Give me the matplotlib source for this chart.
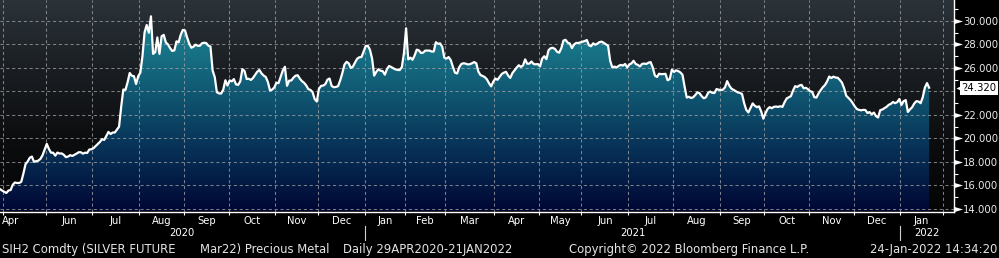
import numpy as np
import pandas as pd
import matplotlib
matplotlib.use("Agg")
import matplotlib.pyplot as plt
import matplotlib.transforms as mtransforms
from matplotlib.colors import LinearSegmentedColormap
from matplotlib.patches import Polygon

# ---------------- data (daily settlement, SIH2 Comdty) ----------------
price_2020 = [
    15.68, 15.55, 15.45, 15.35, 15.56, 15.60, 16.05, 16.24, 16.20, 16.20,
    16.30, 17.00, 17.80, 18.03, 18.35, 18.45, 18.00, 18.06, 18.10, 18.25,
    18.56, 19.05, 19.53, 19.10, 18.78, 18.78, 18.53, 18.79, 18.71, 18.72,
    18.60, 18.40, 18.45, 18.57, 18.50, 18.60, 18.70, 18.82, 18.82, 18.70,
    18.78, 18.76, 19.05, 19.07, 19.17, 19.35, 19.52, 19.70, 19.93, 19.87,
    20.20, 20.55, 20.37, 20.50, 20.50, 20.75,
    21.00, 22.70, 24.16, 24.13, 24.77, 25.57, 25.33, 25.30, 24.63, 25.30,
    25.60, 27.00, 29.04, 29.66, 29.00, 30.40, 27.20, 27.35, 28.60, 27.20,
    28.70, 28.82, 28.18, 28.00, 27.69, 27.45, 27.50, 28.27, 28.18, 28.83,
    29.24, 29.20, 28.60, 28.07, 27.72, 27.81, 27.99, 27.89, 27.89, 28.10,
    28.15, 28.12, 27.90, 27.82, 25.78, 25.23, 23.93, 23.83, 23.82, 24.15,
    24.95, 24.50, 24.94, 24.86, 25.05, 24.60,
    24.56, 24.85, 25.90, 25.75, 25.06, 25.08, 24.98, 25.15, 25.42, 25.68,
    25.83, 25.54, 25.35, 25.23, 24.80, 24.08, 24.16, 24.33, 24.74, 24.71,
    25.25, 25.78, 26.10, 24.48, 24.92, 24.93, 25.17, 25.34, 25.38, 25.10,
    24.88, 24.74, 24.52, 24.20, 24.13, 23.95, 23.35, 23.14, 24.22, 24.47,
    24.50, 24.62, 25.00, 25.10, 24.46, 24.36, 24.38, 24.45, 24.94, 25.55,
    26.28, 26.52, 26.40, 26.00, 26.12, 26.47,
    26.79, 26.91, 26.93, 27.38,
]
price_2021 = [
    27.87, 27.89, 27.55, 26.80, 25.35, 25.67,
    25.89, 25.76, 25.73, 25.43, 25.90, 26.17, 26.08, 25.97, 25.88, 25.83,
    25.82, 26.07, 27.27, 29.38, 26.73, 26.88, 26.70, 27.06, 27.56, 27.50,
    27.28, 27.30, 27.48, 27.48, 27.48, 27.40, 27.40, 28.19, 28.06, 28.09,
    27.80, 26.87, 26.80, 26.93, 26.67, 26.10, 25.60, 25.53, 26.07, 26.34,
    26.40, 26.37, 26.30, 26.32, 26.40,
    26.50, 26.40, 25.69, 25.39, 25.32, 25.22, 25.03, 24.70, 24.43, 24.83,
    25.10, 24.99, 25.24, 25.49, 25.60, 25.67, 25.35, 25.15, 25.56, 25.80,
    26.03, 26.23, 26.09, 26.22, 26.73, 26.36, 26.37, 26.55, 26.33, 26.31,
    26.33, 26.13, 26.80, 27.00, 26.75, 27.52, 27.68, 27.72, 27.62, 27.38,
    27.30, 27.68, 28.33, 28.40, 28.16, 28.08, 27.69, 28.00, 28.13, 28.13,
    28.18, 28.24, 28.29, 28.38, 27.93, 27.85,
    28.10, 27.98, 28.08, 28.21, 28.24, 28.14, 28.01, 27.89, 26.60, 26.04,
    26.12, 26.04, 26.18, 26.26, 26.20, 26.34, 26.04, 26.30, 26.39, 26.61,
    26.34, 26.26, 26.13, 26.35, 26.37, 26.34, 26.45, 26.50, 26.05, 25.36,
    25.23, 25.51, 25.47, 25.48, 25.50, 24.95, 25.05, 25.85, 25.66, 25.80,
    25.73, 25.62, 25.42, 24.40, 23.48, 23.55, 23.44, 23.50, 23.69, 23.92,
    23.85, 23.60, 23.42, 23.50, 23.86,
    23.99, 23.88, 23.86, 24.20, 24.15, 24.12, 24.15, 24.35, 24.88, 24.50,
    24.24, 24.13, 24.01, 23.92, 23.88, 23.78, 23.00, 22.43, 22.21, 22.60,
    22.98, 22.78, 22.66, 22.73, 22.30, 21.68, 22.12, 22.50, 22.66, 22.57,
    22.69, 22.71, 22.68, 22.74, 22.68, 23.08, 23.40, 23.50, 23.60, 24.08,
    24.45, 24.38, 24.51, 24.56, 24.27, 24.31, 24.19, 24.02, 23.96, 23.51,
    23.48, 23.83, 24.11, 24.36, 24.54, 24.85,
    25.27, 25.14, 25.26, 25.18, 25.17, 24.98, 24.75, 24.28, 23.64, 23.46,
    23.27, 23.02, 22.73, 22.50, 22.43, 22.39, 22.43, 22.42, 22.16, 22.24,
    22.05, 22.20, 21.90, 21.78, 22.40, 22.46, 22.57, 22.69, 22.86, 22.94,
    23.10, 23.00, 23.09, 23.35,
]
price_2022 = [22.85, 23.17, 23.26, 22.25, 22.47, 22.65, 22.97, 23.17, 23.14,
              23.00, 23.50, 24.32, 24.71, 24.32]

holidays = ['2020-05-25', '2020-07-03', '2020-09-07', '2020-11-26', '2020-12-25',
            '2021-01-01', '2021-01-18', '2021-02-15', '2021-04-02', '2021-05-31',
            '2021-07-05', '2021-09-06', '2021-11-25', '2021-12-24', '2022-01-17',
            '2022-02-21']
first_day = '2020-04-29'
calendar_end = '2022-02-28'

y_ticks = [14, 16, 18, 20, 22, 24, 26, 28, 30]
y_minor = [15, 17, 19, 21, 23, 25, 27, 29, 31]
month_names = ['Jan', 'Feb', 'Mar', 'Apr', 'May', 'Jun', 'Jul', 'Aug', 'Sep',
               'Oct', 'Nov', 'Dec']

footer_left = "SIH2 Comdty (SILVER FUTURE"
footer_mid = "Mar22) Precious Metal"
footer_range = "Daily 29APR2020-21JAN2022"
footer_copy = "Copyright\u00a9 2022 Bloomberg Finance L.P."
footer_time = "24-Jan-2022 14:34:20"

# ---------------- prep ----------------
price = np.array(price_2020 + price_2021 + price_2022)
sessions = pd.bdate_range(first_day, calendar_end, freq='C', holidays=holidays)
n = len(price)
x = np.arange(n)

XMAX = 448.7
YMIN, YMAX = 13.77, 31.79

W, H = 999, 258
fig = plt.figure(figsize=(W / 100, H / 100), dpi=100, facecolor='black')
ax_r, ax_b = 954, 211.5
ax = fig.add_axes([0, (H - ax_b) / H, ax_r / W, ax_b / H])
ax.set_facecolor('black')
ax.set_xlim(0, XMAX)
ax.set_ylim(YMIN, YMAX)

FONT = ['DejaVu Sans']

# background gradient
grad = np.linspace(0, 1, 256).reshape(-1, 1)
bg_cmap = LinearSegmentedColormap.from_list('bg', ['#2b3339', '#1a1e22', '#0c0d0f', '#050506'])
ax.imshow(grad, extent=[0, XMAX, YMIN, YMAX], aspect='auto', cmap=bg_cmap,
          origin='upper', zorder=0, interpolation='bilinear')

# area fill with vertical gradient
fill_cmap = LinearSegmentedColormap.from_list(
    'fill', [(0.0, '#218a9a'), (0.25, '#177286'), (0.5, '#0e4f6c'),
             (0.75, '#062b52'), (1.0, '#000734')])
verts = np.column_stack([np.r_[x, x[::-1]], np.r_[price, np.full(n, YMIN)]])
poly = Polygon(verts, closed=True, facecolor='none', edgecolor='none')
ax.add_patch(poly)
im = ax.imshow(grad, extent=[0, XMAX, YMIN, YMAX], aspect='auto', cmap=fill_cmap,
               origin='upper', zorder=1, interpolation='bilinear')
im.set_clip_path(poly)

# month boundaries (session index where month changes)
sess_months = sessions.year * 100 + sessions.month
bounds = [i - 0.5 for i in range(1, len(sessions)) if sess_months[i] != sess_months[i - 1]]
bounds = [b for b in bounds if b < XMAX]

# grid
gkw = dict(color='#a3a3a3', lw=0.75, ls=(0, (3, 2.6)), alpha=0.75, zorder=2)
for b in bounds:
    ax.axvline(b, **gkw)
for yv in y_ticks:
    ax.axhline(yv, **gkw)

# price line
ax.plot(x, price, color='white', lw=1.6, zorder=4, solid_joinstyle='round')

# spines
for s in ['left', 'top']:
    ax.spines[s].set_visible(False)
for s in ['right', 'bottom']:
    ax.spines[s].set_color('white')
    ax.spines[s].set_linewidth(1.0)
    ax.spines[s].set_zorder(5)

# x ticks
ax.set_xticks(bounds)
ax.tick_params(axis='x', direction='out', length=2.4, width=0.8, color='white',
               labelbottom=False)

# y ticks on the right
ax.yaxis.tick_right()
ax.set_yticks(y_ticks)
ax.set_yticks(y_minor, minor=True)
last = price[-1]
ax.set_yticklabels(['' if v == 24 else f'{v:.3f}' for v in y_ticks])
ax.tick_params(axis='y', which='major', length=0, pad=6.6, labelsize=7.3,
               labelcolor='#ececec')
ax.tick_params(axis='y', which='minor', length=3, width=0.8, color='white',
               direction='out')
for lab in ax.get_yticklabels():
    lab.set_family(FONT)

bl_ax_data = mtransforms.blended_transform_factory(ax.transAxes, ax.transData)
bl_data_ax = mtransforms.blended_transform_factory(ax.transData, ax.transAxes)
tri = [(-1, -0.6), (1, 0), (-1, 0.6)]
tv = [v for v in y_ticks if v != 24]
ax.plot(np.full(len(tv), 1 + 4.3 / ax_r), tv, ls='none', marker=tri, ms=6.5,
        color='white', mec='none', transform=bl_ax_data, clip_on=False, zorder=6)

# last value box
ax.text(1 + 7.5 / ax_r, last, f'{last:.3f}', transform=bl_ax_data, ha='left',
        va='center', fontsize=7.3, color='black', family=FONT, zorder=7,
        bbox=dict(boxstyle='square,pad=0.18', fc='white', ec='none'))
ax.plot([1 + 5.5 / ax_r], [last], marker='<', ms=6, color='white', mec='none',
        transform=bl_ax_data, clip_on=False, zorder=7)

# month labels
starts = [0] + [int(b + 0.5) for b in bounds]
label_y = -(220.5 - ax_b) / ax_b
for j in range(len(starts) - 1):
    i0 = starts[j]
    d = sessions[i0]
    if d.year == 2020 and d.month in (4, 5):
        continue
    c = (starts[j] - 0.5 + starts[j + 1] - 0.5) / 2
    ax.text(c, label_y, month_names[d.month - 1], transform=bl_data_ax, ha='center',
            va='center', color='white', fontsize=7.2, family=FONT, clip_on=False)
# first partial month label, held inside the axis
ax.text(0.9, label_y, month_names[sessions[0].month - 1], transform=bl_data_ax,
        ha='left', va='center', color='white', fontsize=7.2, family=FONT)

# year labels and separators
year_y = -(232.5 - ax_b) / ax_b
years = sorted(set(sessions.year[:n]))
ybounds = [-0.5] + [i - 0.5 for i in range(1, len(sessions))
                    if sessions.year[i] != sessions.year[i - 1] and i - 0.5 < XMAX] + [XMAX]
for j, yr in enumerate(years):
    c = (ybounds[j] + ybounds[j + 1]) / 2
    ax.text(c, year_y, str(yr), transform=bl_data_ax, ha='center', va='center',
            color='white', fontsize=7.2, family=FONT, clip_on=False)
for b in ybounds[1:-1]:
    ax.plot([b, b], [-(226 - ax_b) / ax_b, -(240 - ax_b) / ax_b], transform=bl_data_ax,
            color='#d0d0d0', lw=0.8, clip_on=False)

# footer
fy = (H - 249.5) / H
fkw = dict(color='#e4e4e4', fontsize=8.4, va='center', family=FONT)
fig.text(2 / W, fy, footer_left, ha='left', **fkw)
fig.text(200 / W, fy, footer_mid, ha='left', **fkw)
fig.text(343 / W, fy, footer_range, ha='left', **fkw)
fig.text(569 / W, fy, footer_copy, ha='left', **fkw)
fig.text(997 / W, fy, footer_time, ha='right', **fkw)

fig.savefig('out.png', dpi=100, facecolor='black')
